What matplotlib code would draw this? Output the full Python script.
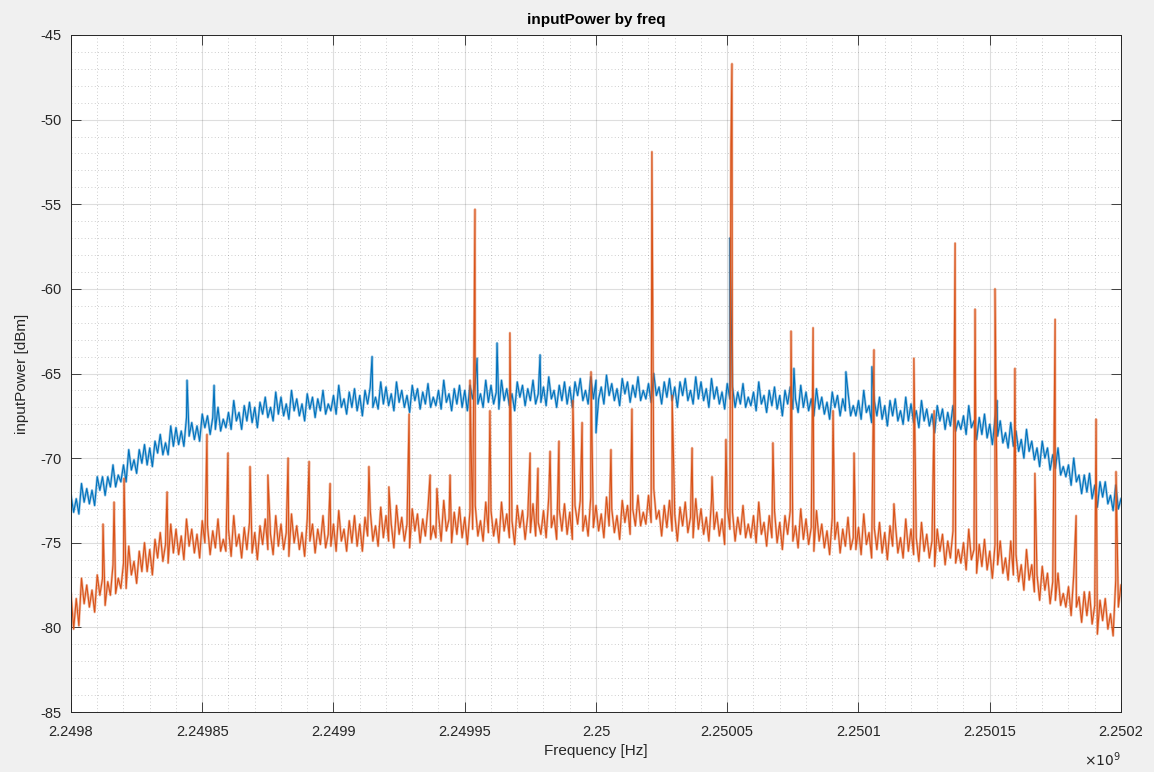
import matplotlib.pyplot as plt
import numpy as np
from matplotlib.ticker import MultipleLocator, FuncFormatter

# Frequency grid: 1 kHz steps starting at 2.2498 GHz
f_start = 2.2498e9
f_step = 1e3

# Blue trace (dBm, one per kHz)
blue_db = [
    -72.2, -73.2, -72.4, -73.3, -71.5, -72.6, -71.8, -72.7, -71.9, -72.8,
    -71.1, -71.9, -71.1, -72.2, -71.1, -71.7, -70.4, -71.7, -71.0, -71.4,
    -70.4, -71.4, -69.5, -70.7, -70.1, -70.9, -69.5, -70.3, -69.2, -70.4,
    -69.4, -70.5, -69.0, -69.7, -68.6, -69.8, -69.1, -69.8, -68.1, -69.3,
    -68.2, -69.2, -68.4, -69.3, -67.6, -68.7, -67.9, -68.9, -68.1, -69.0,
    -67.4, -68.2, -67.5, -68.6, -67.6, -68.3, -67.0, -68.4, -67.7, -68.2,
    -67.3, -68.3, -66.6, -67.8, -67.3, -68.3, -66.9, -67.8, -66.7, -67.9,
    -67.0, -68.2, -66.7, -67.4, -66.4, -67.6, -67.0, -67.8, -66.1, -67.4,
    -66.4, -67.5, -66.8, -67.7, -66.0, -67.2, -66.5, -67.5, -66.8, -67.8,
    -66.2, -67.1, -66.4, -67.6, -66.5, -67.2, -66.0, -67.4, -66.8, -67.2,
    -66.3, -67.4, -65.7, -67.0, -66.5, -67.4, -66.1, -67.0, -65.9, -67.2,
    -66.3, -67.5, -66.0, -66.8, -65.8, -67.0, -66.4, -67.1, -65.5, -66.8,
    -65.8, -66.9, -66.2, -67.2, -65.5, -66.7, -66.0, -67.0, -66.3, -67.3,
    -65.7, -66.6, -65.9, -67.1, -66.1, -66.8, -65.6, -67.0, -66.4, -66.9,
    -66.0, -67.1, -65.4, -66.7, -66.2, -67.2, -65.9, -66.8, -65.7, -67.0,
    -66.0, -67.2, -65.7, -66.5, -65.5, -66.8, -66.2, -67.0, -65.4, -66.7,
    -65.7, -66.8, -66.1, -67.1, -65.4, -66.6, -65.9, -66.9, -66.2, -67.2,
    -65.5, -66.4, -65.7, -66.9, -65.9, -66.6, -65.4, -66.8, -66.2, -66.7,
    -65.8, -66.9, -65.2, -66.5, -66.0, -67.0, -65.7, -66.6, -65.5, -66.8,
    -65.8, -67.0, -65.5, -66.3, -65.3, -66.6, -66.0, -66.8, -65.2, -66.5,
    -65.4, -66.5, -65.8, -66.8, -65.1, -66.3, -65.6, -66.6, -65.9, -66.9,
    -65.3, -66.2, -65.5, -66.7, -65.7, -66.4, -65.2, -66.6, -66.0, -66.5,
    -65.6, -66.7, -65.0, -66.3, -65.8, -66.8, -65.5, -66.4, -65.3, -66.6,
    -65.8, -67.0, -65.5, -66.3, -65.3, -66.6, -66.0, -66.8, -65.2, -66.5,
    -65.5, -66.6, -65.9, -67.0, -65.3, -66.5, -65.8, -66.8, -66.1, -67.1,
    -65.6, -66.5, -65.8, -67.0, -66.1, -66.8, -65.6, -67.0, -66.4, -66.9,
    -66.1, -67.2, -65.5, -66.8, -66.3, -67.3, -66.0, -66.9, -65.8, -67.1,
    -66.3, -67.5, -66.0, -66.8, -65.8, -67.1, -66.5, -67.3, -65.7, -67.0,
    -66.1, -67.2, -66.5, -67.5, -65.9, -67.1, -66.4, -67.4, -66.7, -67.7,
    -66.1, -67.0, -66.3, -67.5, -66.5, -67.2, -66.1, -67.5, -66.9, -67.5,
    -66.6, -67.7, -66.0, -67.3, -66.9, -67.9, -66.6, -67.5, -66.4, -67.7,
    -66.9, -68.1, -66.6, -67.5, -66.5, -67.8, -67.2, -68.0, -66.4, -67.8,
    -66.8, -67.9, -67.2, -68.2, -66.6, -67.8, -67.1, -68.1, -67.4, -68.5,
    -66.9, -67.8, -67.1, -68.3, -67.3, -68.1, -66.9, -68.4, -67.8, -68.3,
    -67.5, -68.6, -66.9, -68.2, -67.8, -68.9, -67.6, -68.6, -67.4, -68.8,
    -68.0, -69.2, -67.7, -68.7, -67.8, -69.1, -68.5, -69.4, -67.9, -69.3,
    -68.4, -69.6, -68.9, -70.0, -68.3, -69.6, -69.0, -70.1, -69.4, -70.5,
    -69.0, -70.0, -69.4, -70.7, -69.8, -70.6, -69.4, -71.0, -70.5, -71.1,
    -70.4, -71.6, -70.0, -71.4, -71.0, -72.1, -71.0, -72.0, -70.9, -72.4,
    -71.6, -72.9, -71.4, -72.3, -71.4, -72.7, -72.2, -73.1, -71.6, -73.0,
    -72.4,
]

# Orange trace (dBm, one per kHz)
orange_db = [
    -78.0, -80.1, -78.3, -79.9, -77.1, -78.6, -77.5, -78.8, -77.8, -79.1,
    -76.9, -78.1, -77.1, -78.7, -77.3, -78.1, -76.3, -78.0, -77.1, -77.7,
    -76.2, -77.7, -75.2, -76.9, -76.1, -77.4, -75.5, -76.7, -75.0, -76.7,
    -75.4, -76.9, -74.8, -75.9, -74.4, -76.1, -75.1, -76.2, -73.9, -75.6,
    -74.2, -75.7, -74.6, -76.0, -73.6, -75.2, -74.2, -75.6, -74.5, -75.9,
    -73.7, -75.0, -74.0, -75.7, -74.3, -75.3, -73.6, -75.5, -74.8, -75.5,
    -74.2, -75.8, -73.4, -75.2, -74.5, -75.9, -74.1, -75.4, -73.8, -75.6,
    -74.4, -76.0, -74.0, -75.1, -73.6, -75.4, -74.5, -75.7, -73.4, -75.2,
    -73.9, -75.4, -74.4, -75.8, -73.3, -75.0, -74.0, -75.4, -74.4, -75.8,
    -73.6, -74.9, -73.9, -75.6, -74.2, -75.1, -73.4, -75.3, -74.5, -75.2,
    -73.9, -75.5, -73.1, -74.9, -74.2, -75.5, -73.7, -75.0, -73.4, -75.2,
    -73.9, -75.5, -73.5, -74.6, -73.1, -74.9, -74.0, -75.2, -72.9, -74.7,
    -73.4, -74.9, -73.9, -75.3, -72.8, -74.5, -73.5, -74.9, -73.9, -75.3,
    -73.0, -74.3, -73.3, -75.0, -73.6, -74.6, -72.9, -74.8, -74.0, -74.7,
    -73.3, -74.9, -72.5, -74.3, -73.6, -75.0, -73.2, -74.5, -72.9, -74.7,
    -73.5, -75.1, -73.1, -74.2, -72.8, -74.6, -73.7, -74.9, -72.6, -74.4,
    -73.1, -74.6, -73.6, -75.0, -72.6, -74.3, -73.3, -74.7, -73.7, -75.1,
    -72.8, -74.1, -73.1, -74.8, -73.4, -74.4, -72.7, -74.6, -73.8, -74.5,
    -73.1, -74.7, -72.3, -74.1, -73.4, -74.8, -73.0, -74.3, -72.7, -74.5,
    -73.2, -74.8, -72.8, -73.9, -72.5, -74.3, -73.4, -74.6, -72.3, -74.1,
    -72.8, -74.3, -73.3, -74.7, -72.3, -74.0, -73.0, -74.4, -73.4, -74.8,
    -72.5, -73.8, -72.8, -74.5, -73.0, -74.0, -72.2, -74.0, -73.2, -73.9,
    -72.2, -73.8, -71.8, -73.6, -73.1, -74.6, -72.8, -74.1, -72.5, -74.3,
    -73.3, -74.9, -72.9, -74.0, -72.6, -74.4, -73.5, -74.7, -72.4, -74.2,
    -73.0, -74.5, -73.5, -74.9, -72.5, -74.2, -73.2, -74.6, -73.6, -75.1,
    -72.9, -74.2, -73.2, -74.9, -73.5, -74.5, -72.8, -74.7, -73.9, -74.7,
    -73.4, -75.0, -72.6, -74.5, -73.8, -75.2, -73.4, -74.7, -73.1, -75.0,
    -73.8, -75.4, -73.4, -74.5, -73.1, -74.9, -74.0, -75.3, -73.0, -74.8,
    -73.6, -75.1, -74.1, -75.5, -73.1, -74.9, -73.9, -75.3, -74.3, -75.7,
    -73.5, -74.8, -73.8, -75.6, -74.2, -75.2, -73.5, -75.4, -74.7, -75.4,
    -74.1, -75.7, -73.3, -75.1, -74.4, -75.9, -74.1, -75.4, -73.8, -75.6,
    -74.4, -76.0, -74.0, -75.2, -73.8, -75.6, -74.7, -75.9, -73.6, -75.5,
    -74.2, -75.7, -74.7, -76.1, -73.8, -75.5, -74.5, -75.9, -74.9, -76.4,
    -74.2, -75.5, -74.5, -76.3, -74.9, -75.9, -74.3, -76.2, -75.4, -76.2,
    -75.0, -76.6, -74.2, -76.0, -75.4, -76.8, -75.1, -76.4, -74.8, -76.6,
    -75.5, -77.1, -75.1, -76.3, -74.9, -76.8, -75.9, -77.2, -74.9, -76.9,
    -75.7, -77.3, -76.3, -77.8, -75.4, -77.2, -76.3, -77.9, -76.9, -78.4,
    -76.4, -77.8, -76.8, -78.6, -77.3, -78.4, -76.8, -78.7, -78.0, -78.8,
    -77.6, -79.3, -76.9, -78.8, -78.2, -79.7, -77.9, -79.3, -77.9, -79.8,
    -78.7, -80.4, -78.4, -79.6, -78.3, -80.1, -79.2, -80.5, -77.2, -78.8,
    -77.5,
]

# Narrow spurs on the orange trace: offset from 2.2498 GHz in kHz, peak in dBm
orange_spur_khz = [
    12.2, 16.4, 20.2, 36.6, 51.8, 59.8, 68.2, 75.0, 82.7, 90.7,
    98.7, 113.5, 121.1, 128.8, 136.8, 139.4, 144.4, 152.0, 153.9, 159.6,
    167.2, 174.9, 177.9, 182.5, 185.9, 191.2, 194.7, 198.1, 205.7, 213.7,
    221.3, 229.0, 236.6, 244.2, 249.5, 251.4, 251.8, 267.4, 274.3, 282.7,
    290.3, 298.3, 305.9, 313.5, 321.1, 328.8, 336.8, 344.4, 352.0, 359.6,
    367.2, 374.9, 382.9, 390.5, 398.1,
]
orange_spur_db = [
    -73.9, -72.6, -71.2, -72.0, -68.6, -69.7, -70.5, -71.0, -70.0, -70.2,
    -71.5, -70.5, -71.7, -67.4, -71.0, -71.8, -71.0, -65.4, -55.3, -67.2,
    -62.6, -69.7, -70.6, -69.6, -69.0, -66.6, -67.9, -64.9, -69.5, -67.1,
    -51.9, -66.3, -69.4, -71.1, -68.9, -51.6, -46.7, -69.1, -62.5, -62.3,
    -67.2, -69.7, -63.6, -72.7, -64.1, -67.2, -57.3, -61.2, -60.0, -64.7,
    -70.9, -61.8, -73.4, -67.7, -70.8,
]

# Spurs / dips on the blue trace
blue_spur_khz = [44.2, 54.5, 114.7, 154.7, 162.3, 178.7, 200.0, 251.0, 275.4, 295.2, 305.1, 352.8]
blue_spur_db = [-65.4, -65.7, -64.0, -64.1, -63.2, -63.9, -68.5, -57.0, -64.7, -64.9, -64.6, -66.6]


def build_trace(values, spur_khz, spur_db):
    khz = np.concatenate([np.arange(len(values)), spur_khz])
    db = np.concatenate([values, spur_db])
    order = np.argsort(khz, kind="stable")
    return f_start + khz[order] * f_step, db[order]


bx, by = build_trace(blue_db, blue_spur_khz, blue_spur_db)
ox, oy = build_trace(orange_db, orange_spur_khz, orange_spur_db)

plt.rcParams['font.family'] = ['Liberation Sans', 'DejaVu Sans']
plt.rcParams['axes.unicode_minus'] = False

fig = plt.figure(figsize=(11.54, 7.72), dpi=100, facecolor='#f0f0f0')
ax = fig.add_axes([71 / 1154, 1 - 712 / 772, (1121 - 71) / 1154, (712 - 35) / 772])
ax.set_facecolor('white')

# soft wider stroke under a thin one gives the dense noisy band look
for x, y, c in [(bx, by, '#0072BD'), (ox, oy, '#D95319')]:
    ax.plot(x, y, color=c, linewidth=1.8, alpha=0.4)
    ax.plot(x, y, color=c, linewidth=0.8)

ax.set_xlim(2.2498e9, 2.2502e9)
ax.set_ylim(-85, -45)

ax.xaxis.set_major_locator(MultipleLocator(50e3))
ax.xaxis.set_minor_locator(MultipleLocator(10e3))
ax.yaxis.set_major_locator(MultipleLocator(5))
ax.yaxis.set_minor_locator(MultipleLocator(1))
ax.xaxis.set_major_formatter(FuncFormatter(lambda v, p: f"{v / 1e9:.6g}"))

ax.grid(True, which='major', color='#262626', alpha=0.15, linewidth=0.8)
ax.grid(True, which='minor', color='#262626', alpha=0.3, linewidth=0.6, linestyle=(0, (1, 3)))
ax.set_axisbelow(True)

ax.tick_params(which='major', direction='in', length=7, width=0.6, colors='#262626',
               labelsize=10.5, top=True, right=True)
ax.tick_params(axis='x', which='major', pad=9)
ax.tick_params(axis='y', which='major', pad=7)
ax.tick_params(which='minor', length=0, top=True, right=True)
for s in ax.spines.values():
    s.set_color('#262626')
    s.set_linewidth(0.7)

ax.set_title('inputPower by freq', fontsize=11, fontweight='bold', color='black', pad=8)
ax.set_xlabel('Frequency [Hz]', fontsize=11, color='#262626', labelpad=4)
ax.set_ylabel('inputPower [dBm]', fontsize=11, color='#262626', labelpad=8)

fig.text(1084 / 1154, 1 - 760 / 772, r'$\times10^{9}$', fontsize=10, color='#262626',
         ha='left', va='center')

fig.savefig('out.png', dpi=100, facecolor=fig.get_facecolor())
